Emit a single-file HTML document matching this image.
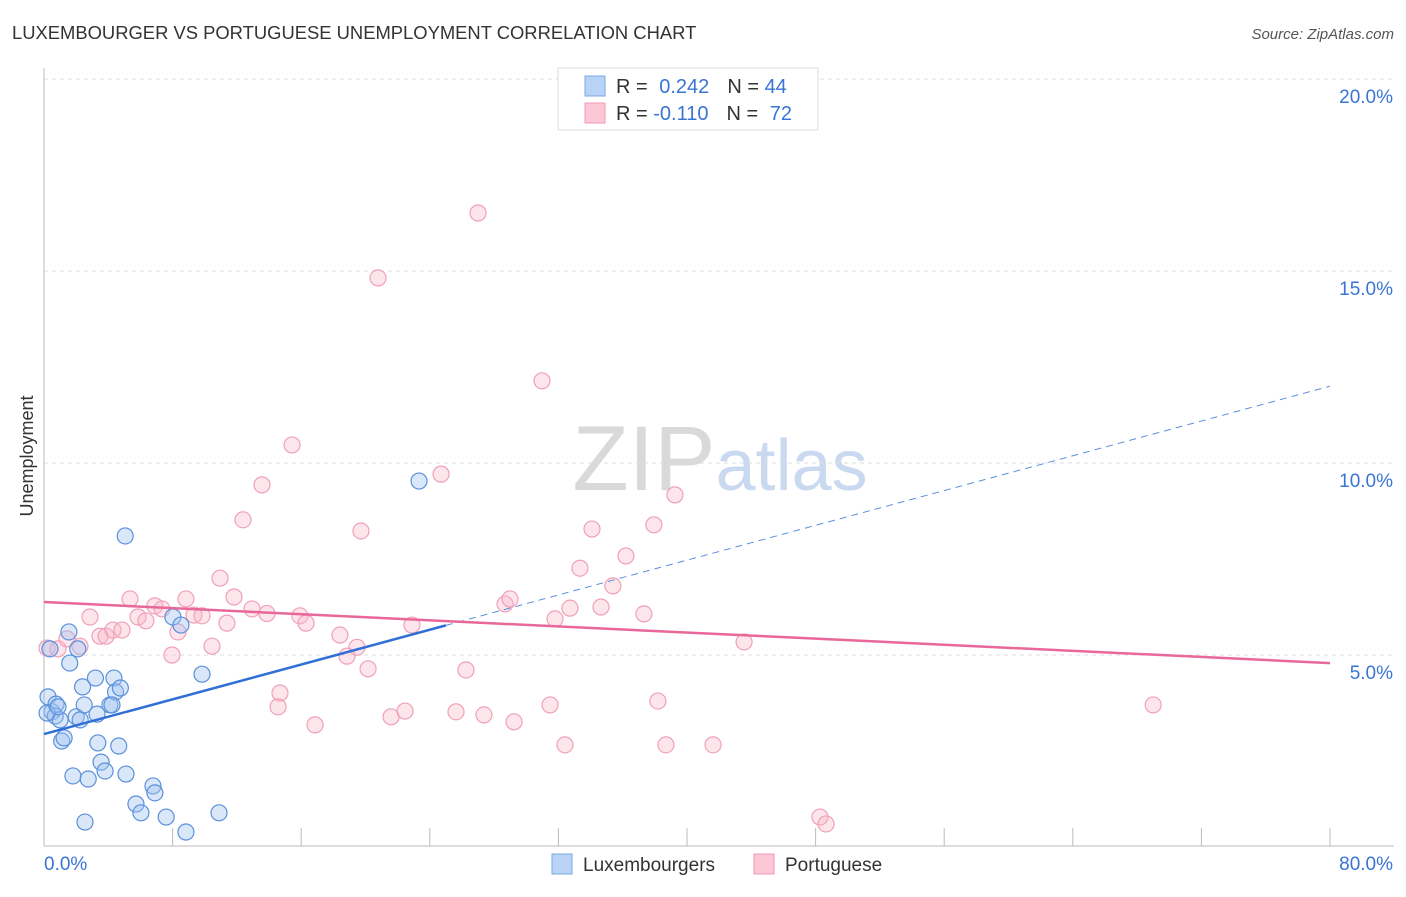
<!DOCTYPE html>
<html><head><meta charset="utf-8"><style>
body{margin:0;background:#fff;font-family:"Liberation Sans",sans-serif;}
svg text{font-family:"Liberation Sans",sans-serif;}
</style></head><body>
<svg id="chart" width="1406" height="892">
<text x="12" y="39" font-size="18.4" fill="#333">LUXEMBOURGER VS PORTUGUESE UNEMPLOYMENT CORRELATION CHART</text>
<text x="1394" y="39" font-size="15" fill="#555" text-anchor="end" font-style="italic">Source: ZipAtlas.com</text>
<text x="720" y="490" font-size="92" fill="#ddd" text-anchor="middle" font-family="Liberation Serif"><tspan fill="#d9d9d9">ZIP</tspan><tspan fill="#c9daf0" font-family="Liberation Sans" font-size="72">atlas</tspan></text>
<text transform="translate(33,456) rotate(-90)" font-size="18" fill="#333" text-anchor="middle">Unemployment</text>
<g id="grid"></g><g id="pts"></g><g id="lines"></g>
<g>
<rect x="558" y="68" width="260" height="62" fill="#fff" stroke="#ddd"/>
<rect x="585" y="76" width="20" height="20" fill="#b8d3f5" stroke="#7aaae8"/>
<rect x="585" y="103" width="20" height="20" fill="#fcc8d8" stroke="#f09ab5"/>
<text x="616" y="93" font-size="20" fill="#333">R = <tspan fill="#3a74d4" dx="6">0.242</tspan><tspan dx="18" fill="#333">N = </tspan><tspan fill="#3a74d4">44</tspan></text>
<text x="616" y="120" font-size="20" fill="#333">R = <tspan fill="#3a74d4">-0.110</tspan><tspan dx="18" fill="#333">N = </tspan><tspan fill="#3a74d4" dx="6">72</tspan></text>
</g>
<g>
<rect x="552" y="854" width="20" height="20" fill="#b8d3f5" stroke="#7aaae8"/>
<text x="583" y="871" font-size="19" fill="#333">Luxembourgers</text>
<rect x="754" y="854" width="20" height="20" fill="#fcc8d8" stroke="#f09ab5"/>
<text x="785" y="871" font-size="19" fill="#333">Portuguese</text>
</g>
</svg>
<script>
const yTicks=[5,10,15,20];
const xTickVals=[0,8,16,24,32,40,48,56,64,72,80];
const luxX=[0.25,0.5,0.75,0.7,1.0,1.1,1.25,1.55,1.6,1.8,2.0,2.1,2.25,2.4,2.5,2.55,2.75,3.2,3.3,3.35,3.55,3.8,4.1,4.35,4.45,4.65,4.75,5.05,5.1,5.72,6.03,6.78,6.9,7.6,8.02,8.52,8.83,9.83,10.89,23.33,0.37,4.23,0.19,0.87];
const luxY=[3.91,3.52,3.72,3.41,3.31,2.76,2.84,5.6,4.79,1.85,3.39,5.16,3.31,4.17,3.7,0.65,1.77,4.4,3.46,2.71,2.21,1.98,3.7,4.4,4.04,2.63,4.14,8.1,1.9,1.12,0.89,1.59,1.41,0.78,5.99,5.78,0.39,4.5,0.89,9.53,5.16,3.7,3.49,3.65];
const porX=[0.19,0.87,1.43,2.24,2.86,3.48,3.86,4.29,4.85,5.35,5.85,6.34,6.9,7.34,7.96,8.33,8.83,9.33,9.83,10.45,10.95,11.38,11.82,12.38,12.94,13.56,13.87,14.68,14.56,15.43,15.92,16.3,16.86,18.41,18.85,19.47,19.72,20.16,20.78,21.59,22.46,22.89,24.7,25.63,26.25,27.0,27.37,28.68,28.99,29.24,30.98,31.48,31.79,32.41,32.72,33.34,34.09,34.65,35.39,36.2,37.32,37.94,38.19,38.69,39.25,41.62,43.55,48.27,48.65,69.0];
const porY=[5.18,5.16,5.42,5.23,5.99,5.49,5.49,5.65,5.65,6.46,5.99,5.89,6.28,6.2,5.0,5.6,6.46,6.04,6.02,5.23,7.0,5.83,6.51,8.52,6.2,9.43,6.08,4.01,3.65,10.47,6.02,5.83,3.18,5.52,4.97,5.2,8.23,4.64,14.82,3.39,3.54,5.78,9.71,3.52,4.61,16.51,3.44,6.33,6.46,3.26,12.14,3.7,5.94,2.66,6.22,7.26,8.28,6.25,6.8,7.58,6.07,8.39,3.8,2.66,9.17,2.66,5.34,0.78,0.6,3.7];
const luxFit=[2.94,12.0], porFit=[6.38,4.79];
const X=v=>44+v*(1286/80), Y=v=>847-v*38.4;
const NS='http://www.w3.org/2000/svg';
function mk(t,a,p){const e=document.createElementNS(NS,t);for(const k in a)e.setAttribute(k,a[k]);p.appendChild(e);return e;}
const grid=document.getElementById('grid');
yTicks.forEach(v=>{const l=mk('line',{x1:44,x2:1394,y1:Y(v),y2:Y(v),stroke:'#ddd','stroke-dasharray':'4,4'},grid);


const t=mk('text',{x:1393,y:Y(v)+24,'font-size':19,fill:'#3a74d4','text-anchor':'end'},grid);t.textContent=v.toFixed(1)+'%';

});
const ax=mk('line',{x1:44,x2:1394,y1:846,y2:846,stroke:'#bbb'},grid);


const ay=mk('line',{x1:44,x2:44,y1:68,y2:846,stroke:'#bbb'},grid);


xTickVals.forEach(v=>{const t=mk('line',{x1:X(v),x2:X(v),y1:828,y2:846,stroke:'#bbb'},grid);

});
[['0.0%',44,'start'],['80.0%',1393,'end']].forEach(([s,x,a])=>{const t=mk('text',{x:x,y:870,'font-size':19,fill:'#3a74d4','text-anchor':a},grid);t.textContent=s;

});
const pts=document.getElementById('pts');
porX.forEach((v,i)=>{const c=mk('circle',{cx:X(v),cy:Y(porY[i]),r:8,fill:'rgba(248,180,200,0.35)',stroke:'#f0a0b8','stroke-width':1.2},pts);

});
luxX.forEach((v,i)=>{const c=mk('circle',{cx:X(v),cy:Y(luxY[i]),r:8,fill:'rgba(160,195,240,0.4)',stroke:'#5a90dc','stroke-width':1.2},pts);

});
const lines=document.getElementById('lines');
const lf=x=>luxFit[0]+(luxFit[1]-luxFit[0])*x/80;
const l1=mk('line',{x1:X(0),y1:Y(lf(0)),x2:X(25),y2:Y(lf(25)),stroke:'#2f6fd6','stroke-width':2.5},lines);


const l2=mk('line',{x1:X(25),y1:Y(lf(25)),x2:X(80),y2:Y(lf(80)),stroke:'#5a90dc','stroke-width':1,'stroke-dasharray':'7,5'},lines);


const l3=mk('line',{x1:X(0),y1:Y(porFit[0]),x2:X(80),y2:Y(porFit[1]),stroke:'#e8689a','stroke-width':2.5},lines);


</script>
</body></html>
